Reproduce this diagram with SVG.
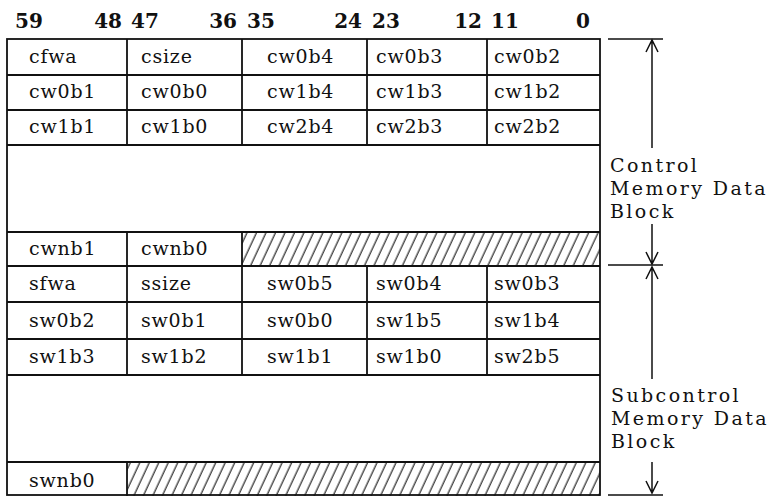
<svg xmlns="http://www.w3.org/2000/svg" width="773" height="496" viewBox="0 0 773 496">
<style>
.hdr{font-family:"DejaVu Serif","Liberation Serif",serif;font-size:20px;font-weight:bold;fill:#111}
.cell{font-family:"DejaVu Serif","Liberation Serif",serif;font-size:19px;fill:#111;letter-spacing:0.8px}
.lbl{font-family:"DejaVu Serif","Liberation Serif",serif;font-size:19px;fill:#111;letter-spacing:2.4px}
.ln{stroke:#111;stroke-width:1.8;fill:none}
.thin{stroke:#111;stroke-width:1.5;fill:none}
</style>
<defs>
<pattern id="hatch" patternUnits="userSpaceOnUse" width="8.6" height="20" patternTransform="rotate(25)">
<line x1="4" y1="-5" x2="4" y2="25" stroke="#111" stroke-width="1.1"/>
</pattern>
</defs>
<g id="header">
<text class="hdr" x="15" y="28">59</text>
<text class="hdr" x="122" y="28" text-anchor="end">48</text>
<text class="hdr" x="131" y="28">47</text>
<text class="hdr" x="237" y="28" text-anchor="end">36</text>
<text class="hdr" x="247" y="28">35</text>
<text class="hdr" x="362" y="28" text-anchor="end">24</text>
<text class="hdr" x="372" y="28">23</text>
<text class="hdr" x="482" y="28" text-anchor="end">12</text>
<text class="hdr" x="491" y="28">11</text>
<text class="hdr" x="590" y="28" text-anchor="end">0</text>
</g>
<g id="hatching">
<rect x="242" y="232" width="358" height="34" fill="url(#hatch)"/>
<rect x="127" y="462" width="473" height="34" fill="url(#hatch)"/>
</g>
<g id="table-lines">
<rect class="ln" x="7" y="39" width="593" height="456"/>
<path class="ln" d="M7 75H600M7 110H600M7 145H600M7 232H600M7 266H600M7 302H600M7 339H600M7 375H600M7 462H600"/>
<path class="ln" d="M127 39V145M242 39V145M367 39V145M487 39V145"/>
<path class="ln" d="M127 232V266M242 232V266"/>
<path class="ln" d="M127 266V375M242 266V375M367 266V375M487 266V375"/>
<path class="ln" d="M127 462V496"/>
</g>
<g id="control-block">
<text class="cell" x="29" y="63">cfwa</text>
<text class="cell" x="141" y="63">csize</text>
<text class="cell" x="267" y="63">cw0b4</text>
<text class="cell" x="376" y="63">cw0b3</text>
<text class="cell" x="494" y="63">cw0b2</text>
<text class="cell" x="29" y="98">cw0b1</text>
<text class="cell" x="141" y="98">cw0b0</text>
<text class="cell" x="267" y="98">cw1b4</text>
<text class="cell" x="376" y="98">cw1b3</text>
<text class="cell" x="494" y="98">cw1b2</text>
<text class="cell" x="29" y="133">cw1b1</text>
<text class="cell" x="141" y="133">cw1b0</text>
<text class="cell" x="267" y="133">cw2b4</text>
<text class="cell" x="376" y="133">cw2b3</text>
<text class="cell" x="494" y="133">cw2b2</text>
<text class="cell" x="29" y="255">cwnb1</text>
<text class="cell" x="141" y="255">cwnb0</text>
</g>
<g id="subcontrol-block">
<text class="cell" x="29" y="290">sfwa</text>
<text class="cell" x="141" y="290">ssize</text>
<text class="cell" x="267" y="290">sw0b5</text>
<text class="cell" x="376" y="290">sw0b4</text>
<text class="cell" x="494" y="290">sw0b3</text>
<text class="cell" x="29" y="327">sw0b2</text>
<text class="cell" x="141" y="327">sw0b1</text>
<text class="cell" x="267" y="327">sw0b0</text>
<text class="cell" x="376" y="327">sw1b5</text>
<text class="cell" x="494" y="327">sw1b4</text>
<text class="cell" x="29" y="363">sw1b3</text>
<text class="cell" x="141" y="363">sw1b2</text>
<text class="cell" x="267" y="363">sw1b1</text>
<text class="cell" x="376" y="363">sw1b0</text>
<text class="cell" x="494" y="363">sw2b5</text>
<text class="cell" x="29" y="487">swnb0</text>
</g>
<g id="connectors">
<path class="thin" d="M608 39H663M608 265H663M608 495H663"/>
<path class="thin" d="M652 40V148M646 52L652 40L658 52"/>
<path class="thin" d="M652 224V264M646 252L652 264L658 252"/>
<path class="thin" d="M652 267V379M646 279L652 267L658 279"/>
<path class="thin" d="M652 462V493M646 481L652 493L658 481"/>
</g>
<g id="label-control">
<text class="lbl" x="610" y="172">Control</text>
<text class="lbl" x="610" y="195">Memory Data</text>
<text class="lbl" x="610" y="218">Block</text>
</g>
<g id="label-subcontrol">
<text class="lbl" x="611" y="402">Subcontrol</text>
<text class="lbl" x="611" y="425">Memory Data</text>
<text class="lbl" x="611" y="448">Block</text>
</g>
</svg>
